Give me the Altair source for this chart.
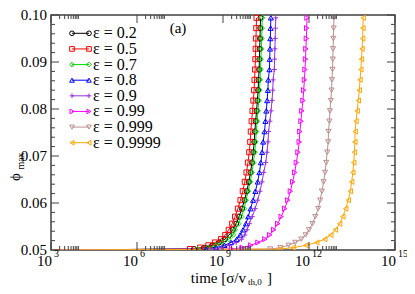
import altair as alt
import pandas as pd

# ---------------- data ----------------
eps_labels = ["0.2", "0.5", "0.7", "0.8", "0.9", "0.99", "0.999", "0.9999"]
colors = ["#000000", "#ff0000", "#00e000", "#0000ff", "#9a30e0", "#ff00ff", "#bc8f8f", "#ffa500"]
shapes = ["circle", "square", "diamond", "triangle-up", "M-1,0L1,0M0,-1L0,1",
          "triangle-right", "triangle-down", "triangle-left"]

# start of every run
start_time_exp = 3
start_phi = 0.05

# phi_max levels at which the curves were read
phi_levels = [0.0502, 0.0505, 0.0510, 0.0516, 0.0523, 0.0532, 0.0543, 0.0556, 0.0571, 0.0588,
              0.0606, 0.0625, 0.0645, 0.0665, 0.0686, 0.0708, 0.0730, 0.0752, 0.0774, 0.0796,
              0.0818, 0.0840, 0.0862, 0.0884, 0.0906, 0.0928, 0.0950, 0.0972, 0.0994]

# log10(time) reached at each phi level, per restitution coefficient
logt_02 = [7.99, 8.34, 8.63, 8.86, 9.07, 9.22, 9.34, 9.46, 9.56, 9.66, 9.75, 9.83, 9.90, 9.96, 10.01,
           10.055, 10.09, 10.11, 10.14, 10.17, 10.20, 10.225, 10.24, 10.26, 10.27, 10.28, 10.29, 10.30, 10.31]
logt_05 = [7.85, 8.20, 8.49, 8.72, 8.93, 9.08, 9.20, 9.32, 9.42, 9.52, 9.61, 9.69, 9.76, 9.82, 9.87,
           9.915, 9.95, 9.97, 10.00, 10.03, 10.06, 10.085, 10.10, 10.12, 10.13, 10.14, 10.15, 10.16, 10.17]
logt_07 = [8.12, 8.47, 8.76, 8.99, 9.20, 9.35, 9.42, 9.54, 9.64, 9.74, 9.80, 9.88, 9.95, 10.01, 10.06,
           10.105, 10.14, 10.16, 10.19, 10.22, 10.25, 10.275, 10.29, 10.31, 10.32, 10.34, 10.35, 10.36, 10.37]
logt_08 = [8.41, 8.76, 9.05, 9.28, 9.48, 9.60, 9.70, 9.80, 9.88, 9.96, 10.05, 10.13, 10.21, 10.27, 10.32,
           10.365, 10.40, 10.45, 10.48, 10.51, 10.54, 10.565, 10.58, 10.62, 10.63, 10.64, 10.65, 10.66, 10.67]
logt_09 = [8.59, 8.94, 9.23, 9.46, 9.65, 9.76, 9.84, 9.92, 10.02, 10.12, 10.21, 10.29, 10.36, 10.42, 10.49,
           10.535, 10.57, 10.59, 10.635, 10.675, 10.71, 10.735, 10.75, 10.79, 10.80, 10.81, 10.82, 10.83, 10.84]
logt_099 = [9.30, 9.67, 9.97, 10.22, 10.46, 10.63, 10.77, 10.91, 11.03, 11.15, 11.26, 11.35, 11.43, 11.50, 11.56,
            11.615, 11.66, 11.68, 11.72, 11.75, 11.79, 11.815, 11.84, 11.86, 11.88, 11.89, 11.91, 11.92, 11.93]
logt_0999 = [10.65, 11.00, 11.29, 11.52, 11.73, 11.88, 12.00, 12.12, 12.22, 12.32, 12.39, 12.45, 12.51, 12.56, 12.60,
             12.635, 12.67, 12.68, 12.71, 12.73, 12.76, 12.785, 12.80, 12.82, 12.83, 12.84, 12.85, 12.86, 12.87]
logt_09999 = [11.00, 11.45, 11.89, 12.27, 12.55, 12.76, 12.92, 13.07, 13.18, 13.28, 13.37, 13.44, 13.49, 13.53, 13.56,
              13.585, 13.60, 13.61, 13.64, 13.68, 13.72, 13.755, 13.78, 13.81, 13.83, 13.85, 13.87, 13.88, 13.89]

all_logt = [logt_02, logt_05, logt_07, logt_08, logt_09, logt_099, logt_0999, logt_09999]

# axis tick values
x_major_exp = [3, 6, 9, 12, 15]
x_minor_mant = [2, 3, 4, 5, 6, 7, 8, 9]
x_minor_dec = [3, 6, 9, 12]
y_major = [0.05, 0.06, 0.07, 0.08, 0.09, 0.10]
y_major_labels = ["0.05", "0.06", "0.07", "0.08", "0.09", "0.10"]
y_minor = [0.052, 0.054, 0.056, 0.058, 0.062, 0.064, 0.066, 0.068, 0.072, 0.074, 0.076, 0.078,
           0.082, 0.084, 0.086, 0.088, 0.092, 0.094, 0.096, 0.098]

# ---------------- tables ----------------
line_rows, point_rows = [], []
for k, (lab, lt) in enumerate(zip(eps_labels, all_logt)):
    line_rows.append({"eps": lab, "k": k, "i": -1, "t": 10.0 ** start_time_exp, "phi": start_phi})
    for i, (p, e) in enumerate(zip(phi_levels, lt)):
        row = {"eps": lab, "k": k, "i": i, "t": 10.0 ** e, "phi": p}
        line_rows.append(row)
        point_rows.append(row)
lines_df = pd.DataFrame(line_rows)
points_df = pd.DataFrame(point_rows)

W, H = 344, 235
FONT = "Liberation Serif"
AX = "#404040"

xs = alt.Scale(type="log", domain=[1e3, 1e15])
ys = alt.Scale(domain=[0.05, 0.10])
cs = alt.Scale(domain=eps_labels, range=colors)
ss = alt.Scale(domain=eps_labels, range=shapes)

lines = alt.Chart(lines_df).mark_line(strokeWidth=1, clip=True).encode(
    x=alt.X("t:Q", scale=xs, axis=None),
    y=alt.Y("phi:Q", scale=ys, axis=None),
    color=alt.Color("eps:N", scale=cs, legend=None),
    detail="k:N",
    order="i:Q",
)
points = alt.Chart(points_df).mark_point(size=26, strokeWidth=1, filled=False, clip=True, opacity=1).encode(
    x=alt.X("t:Q", scale=xs, axis=None),
    y=alt.Y("phi:Q", scale=ys, axis=None),
    color=alt.Color("eps:N", scale=cs, legend=None),
    shape=alt.Shape("eps:N", scale=ss, legend=None),
)

# ---------------- ticks (inward, mirrored) ----------------
xmaj_df = pd.DataFrame({"t": [10.0 ** e for e in x_major_exp], "e": [str(e) for e in x_major_exp]})
xmin_df = pd.DataFrame({"t": [m * 10.0 ** d for d in x_minor_dec for m in x_minor_mant]})
ymaj_df = pd.DataFrame({"phi": y_major, "lab": y_major_labels})
ymin_df = pd.DataFrame({"phi": y_minor})


def xticks(df, length):
    bot = alt.Chart(df).mark_rule(color=AX, strokeWidth=1).encode(
        x=alt.X("t:Q", scale=xs, axis=None), y=alt.value(H), y2=alt.value(H - length))
    top = alt.Chart(df).mark_rule(color=AX, strokeWidth=1).encode(
        x=alt.X("t:Q", scale=xs, axis=None), y=alt.value(0), y2=alt.value(length))
    return bot + top


def yticks(df, length):
    left = alt.Chart(df).mark_rule(color=AX, strokeWidth=1).encode(
        y=alt.Y("phi:Q", scale=ys, axis=None), x=alt.value(0), x2=alt.value(length))
    right = alt.Chart(df).mark_rule(color=AX, strokeWidth=1).encode(
        y=alt.Y("phi:Q", scale=ys, axis=None), x=alt.value(W), x2=alt.value(W - length))
    return left + right


ticks = xticks(xmaj_df, 8) + xticks(xmin_df, 4) + yticks(ymaj_df, 8) + yticks(ymin_df, 4)

# ---------------- tick labels ----------------
ylab = alt.Chart(ymaj_df).mark_text(font=FONT, fontSize=15, align="right", baseline="middle", dx=-4).encode(
    y=alt.Y("phi:Q", scale=ys, axis=None), x=alt.value(0), text="lab:N")
xlab_base = alt.Chart(xmaj_df).mark_text(font=FONT, fontSize=15, align="right", baseline="middle", dx=1).encode(
    x=alt.X("t:Q", scale=xs, axis=None), y=alt.value(H + 11), text=alt.value("10"))
xlab_exp = alt.Chart(xmaj_df).mark_text(font=FONT, fontSize=10, align="left", baseline="middle", dx=3).encode(
    x=alt.X("t:Q", scale=xs, axis=None), y=alt.value(H + 4), text="e:N")

# ---------------- axis titles ----------------
title_df = pd.DataFrame({"a": [0]})
xt1 = alt.Chart(title_df).mark_text(font=FONT, fontSize=15, align="right", baseline="middle").encode(
    x=alt.value(195), y=alt.value(H + 28), text=alt.value("time [σ/v"))
xt2 = alt.Chart(title_df).mark_text(font=FONT, fontSize=9, align="left", baseline="middle").encode(
    x=alt.value(197), y=alt.value(H + 32), text=alt.value("th,0"))
xt3 = alt.Chart(title_df).mark_text(font=FONT, fontSize=15, align="left", baseline="middle").encode(
    x=alt.value(216), y=alt.value(H + 28), text=alt.value("]"))
yt1 = alt.Chart(title_df).mark_text(font=FONT, fontSize=15, align="center", baseline="middle", angle=270).encode(
    x=alt.value(-36), y=alt.value(162), text=alt.value("ϕ"))
yt2 = alt.Chart(title_df).mark_text(font=FONT, fontSize=10, align="center", baseline="middle", angle=270).encode(
    x=alt.value(-30), y=alt.value(146), text=alt.value("max"))
tag = alt.Chart(title_df).mark_text(font=FONT, fontSize=15, align="center", baseline="middle").encode(
    x=alt.value(127), y=alt.value(13), text=alt.value("(a)"))

# ---------------- legend ----------------
leg_df = pd.DataFrame({
    "eps": eps_labels,
    "label": ["ε = " + e for e in eps_labels],
    "ly": [18.3 + 15.63 * i for i in range(len(eps_labels))],
})
leg_line = alt.Chart(leg_df).mark_rule(strokeWidth=1).encode(
    x=alt.value(21), x2=alt.value(38), y=alt.Y("ly:Q", scale=None, axis=None),
    color=alt.Color("eps:N", scale=cs, legend=None))
leg_p1 = alt.Chart(leg_df).mark_point(size=22, strokeWidth=1, filled=False, opacity=1).encode(
    x=alt.value(21), y=alt.Y("ly:Q", scale=None, axis=None),
    color=alt.Color("eps:N", scale=cs, legend=None), shape=alt.Shape("eps:N", scale=ss, legend=None))
leg_p2 = alt.Chart(leg_df).mark_point(size=22, strokeWidth=1, filled=False, opacity=1).encode(
    x=alt.value(38), y=alt.Y("ly:Q", scale=None, axis=None),
    color=alt.Color("eps:N", scale=cs, legend=None), shape=alt.Shape("eps:N", scale=ss, legend=None))
leg_txt = alt.Chart(leg_df).mark_text(font=FONT, fontSize=16, align="left", baseline="middle", color="black").encode(
    x=alt.value(42), y=alt.Y("ly:Q", scale=None, axis=None), text="label:N")

chart = alt.layer(
    lines, points, ticks, ylab, xlab_base, xlab_exp, xt1, xt2, xt3, yt1, yt2, tag,
    leg_line, leg_p1, leg_p2, leg_txt,
).properties(
    width=W, height=H,
    autosize=alt.AutoSizeParams(type="none"),
    padding={"left": 43, "top": 7, "right": 12, "bottom": 36},
).configure_view(stroke=AX, strokeWidth=1.5)

chart.save("out.html", embed_options={"renderer": "svg", "actions": False})
